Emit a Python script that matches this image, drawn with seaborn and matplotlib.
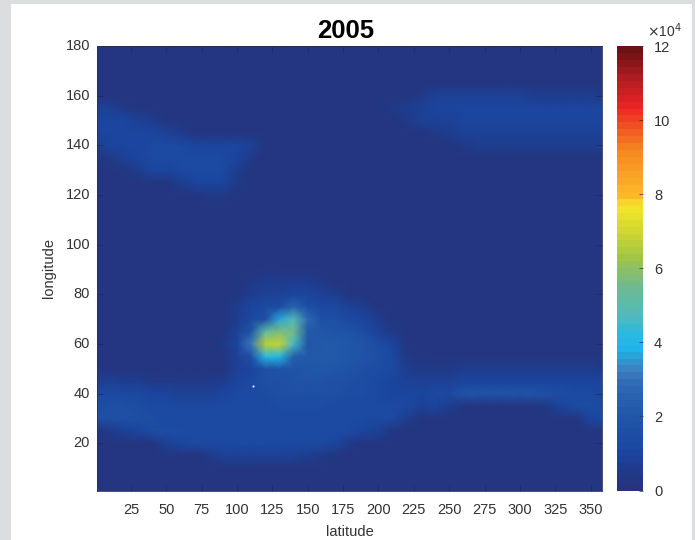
import numpy as np
import matplotlib
matplotlib.use("Agg")
import matplotlib.pyplot as plt
from matplotlib.colors import LinearSegmentedColormap
from matplotlib.patches import Rectangle
import seaborn as sns

W, H = 695, 540
plt.rcParams['font.family'] = ['Liberation Sans', 'DejaVu Sans']

# Column nodes: latitude 0,10,...,360. Row nodes: longitude 180,175,...,0.
# Values are in units of 1000 (image units x 10^4 / 10).
latitudes = list(range(0, 361, 10))
longitudes = list(range(180, -1, -5))
density_k = [
 [2]*37,                                                                # 180
 [2]*37,                                                                # 175
 [2]*37,                                                                # 170
 [2]*37,                                                                # 165
 [2]*23 + [4,8,8,8,8,8,8,8,7,7,7,6,6,5],                                # 160
 [9,8,5,3] + [2]*16 + [3,5,7,9,10,10,10,10,10,10,10,10,10,10,10,10,10], # 155
 [10,11,10,9,6,3] + [2]*15 + [3,5,8,9,9,10,10,10,10,10,10,10,10,10,10,10],  # 150
 [11,11,11,11,11,9,6,3] + [2]*15 + [3,5,7,8,9,9,9,9,9,9,9,9,9,9],       # 145
 [7,10,11,11,12,12,12,11,11,11,11,9,3] + [2]*12 + [3,4,6,6,6,6,6,6,7,7,7,7],  # 140
 [3,5,9,11,12,12,12,12,12,12,10,5] + [2]*21 + [3,3,3,3],                # 135
 [2,2,3,6,10,11,12,13,13,12,7,3] + [2]*25,                              # 130
 [2,2,2,2,2,3,6,10,11,10,4] + [2]*26,                                   # 125
 [2,2,2,2,2,2,2,3,4,4] + [2]*27,                                        # 120
 [2]*37,                                                                # 115
 [2]*37,                                                                # 110
 [2]*37,                                                                # 105
 [2]*37,                                                                # 100
 [2]*37,                                                                # 95
 [2]*37,                                                                # 90
 [2]*11 + [4,6,6,6,6,5,3] + [2]*19,                                     # 85
 [2]*10 + [3,7,9,9,10,10,9,6,3] + [2]*18,                               # 80
 [2]*10 + [6,10,12,14,26,16,13,12,9,6] + [2]*17,                        # 75
 [2]*10 + [7,12,15,36,48,28,16,15,13,10,7,3] + [2]*15,                  # 70
 [2]*9 + [3,9,20,52,58,55,21,19,18,17,14,9,4] + [2]*15,                 # 65
 [2]*9 + [4,10,30,66,68,46,20,21,21,20,17,14,10,3] + [2]*14,            # 60
 [2]*9 + [3,9,16,42,40,24,21,21,21,20,18,15,12,5] + [2]*14,             # 55
 [2]*9 + [3,8,11,16,17,18,19,19,19,18,16,14,12,7] + [5,5,5,6,6,6,6,6,6,6,6,6,6,5],  # 50
 [7,8,7,6,5,4,4,4,5,6,10,13,15,16,17,17,17,16,15,14,12,10,8,8,8,9,10,10,10,10,10,10,10,10,10,10,10],  # 45
 [12,13,13,12,11,10,9,9,9,10,12,13,14,15,15,15,15,15,14,14,12,10,10,11,12,13,17,18,18,18,18,17,16,14,13,12,11],  # 40
 [14,15,15,14,13,12,12,12,12,12,13,13,13,14,14,14,14,13,13,13,12,12,12,8,10,7,2,2,2,2,2,2,4,10,14,14,12],  # 35
 [15,16,16,15,14,13,13,13,13,13,13,13,13,13,13,13,13,13,12,12,12,12,6,2,2,2,2,2,2,2,2,2,2,2,3,10,12],  # 30
 [2,4,8,11,14,14,14,13,13,13,13,13,13,13,13,13,13,13,12,11,8,3,2,2,2,2,2,2,2,2,2,2,2,2,2,2,3],  # 25
 [2,2,2,2,3,8,11,12,12,12,12,12,12,12,12,12,12,11,5,2] + [2]*17,         # 20
 [2]*8 + [5,8,9,9,9,8,8,7,4,2] + [2]*19,                                 # 15
 [2]*37,                                                                # 10
 [2]*37,                                                                # 5
 [2]*37,                                                                # 0
]
x_tick_values = [25, 50, 75, 100, 125, 150, 175, 200, 225, 250, 275, 300, 325, 350]
y_tick_values = [20, 40, 60, 80, 100, 120, 140, 160, 180]
cbar_ticks = [0, 2, 4, 6, 8, 10, 12]
speck_lat = [111]
speck_lon = [43]

cmap_stops = [(0.0, '#27337a'), (0.5, '#1f3c8c'), (1.0, '#1b46a0'), (2.0, '#2058a8'),
              (2.8, '#2f6ab4'), (3.2, '#3f7fc0'), (3.5, '#2e9ad0'), (3.8, '#1fb4ea'),
              (4.2, '#2ab9e0'), (4.7, '#52b9bb'), (5.5, '#6fba90'), (6.0, '#8fbf62'),
              (6.3, '#a3c546'), (7.0, '#cfd72e'), (7.7, '#f3e62a'), (8.0, '#fdb827'),
              (9.2, '#f58a22'), (10.4, '#ee2424'), (11.2, '#b01c20'), (12.0, '#6a1214')]
cmap = LinearSegmentedColormap.from_list('muted_jet', [(v/12, c) for v, c in cmap_stops], N=64)

grid = np.flipud(np.array(density_k, dtype=float)) * 1000 / 1e4  # bottom row = longitude 0

fig = plt.figure(figsize=(W/100, H/100), dpi=100, facecolor='#dcdddf')
fig.patches.append(Rectangle((11/W, 0), (692-11)/W, (H-4)/H, transform=fig.transFigure,
                             facecolor='white', edgecolor='none', zorder=-1))
ax = fig.add_axes([97/W, 1-490.5/H, (602-97)/W, (490.5-46)/H])
cax = fig.add_axes([617/W, 1-490.5/H, (643-617)/W, (490.5-46)/H])

sns.heatmap(grid, ax=ax, cbar_ax=cax, cmap=cmap, vmin=0, vmax=12, shading='gouraud')

dark = '#333333'
to_x = lambda lat: np.asarray(lat) / 10
to_y = lambda lon: np.asarray(lon) / 5
ax.set_xlim(to_x(1), to_x(358))
ax.set_ylim(to_y(1), to_y(180))
ax.set_xticks(to_x(x_tick_values))
ax.set_xticklabels([str(v) for v in x_tick_values], rotation=0)
ax.set_yticks(to_y(y_tick_values))
ax.set_yticklabels([str(v) for v in y_tick_values], rotation=0)
ax.tick_params(direction='in', length=4, width=0.5, color='#1c2a60', labelcolor=dark,
               labelsize=10.5, top=True, right=True, pad=5)
ax.tick_params(axis='x', pad=9)
for s in ax.spines.values():
    s.set_visible(True); s.set_linewidth(0.6); s.set_color('#2a2f55')
ax.plot(to_x(speck_lat), to_y(speck_lon), 's', ms=1.3, color='white', mew=0)

ax.set_xlabel('latitude', fontsize=10.5, color=dark, labelpad=6)
ax.set_ylabel('longitude', fontsize=10.5, color=dark, labelpad=7)
ax.set_title('2005', fontsize=18.5, fontweight='bold', color='black', pad=6, x=0.493)

cax.set_yticks(cbar_ticks)
cax.set_yticklabels([str(v) for v in cbar_ticks])
cax.tick_params(direction='in', length=3, width=0.5, color='#333333', labelcolor=dark,
                labelsize=10.5, right=True, pad=8)
cax.text(1.15, 1.0203, r'$\times$10$^{4}$', transform=cax.transAxes, fontsize=10,
         color=dark, ha='left', va='baseline', math_fontfamily='dejavusans')

fig.savefig('out.png', dpi=100, facecolor=fig.get_facecolor())
